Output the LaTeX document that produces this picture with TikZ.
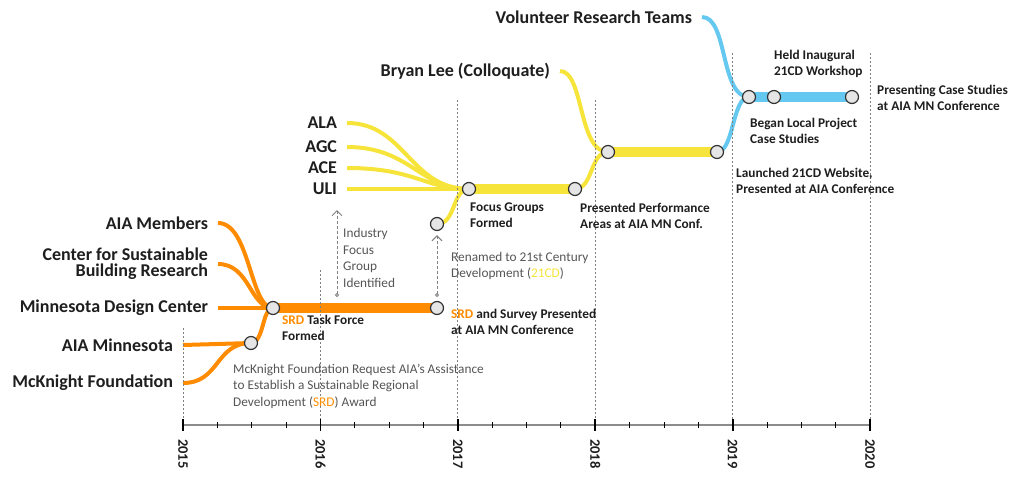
\documentclass[tikz,border=0pt]{standalone}
\usepackage{fontspec}
\setmainfont{Carlito}
\usetikzlibrary{arrows.meta,backgrounds}

\definecolor{srdorange}{RGB}{255,140,0}
\definecolor{cdyellow}{RGB}{247,228,58}
\definecolor{teamblue}{RGB}{100,200,240}
\definecolor{notegray}{RGB}{85,85,85}
\definecolor{inkdark}{RGB}{30,30,30}

\tikzset{
  station/.style={circle, draw=black!80, fill=black!10, line width=1.2pt, minimum size=13pt, inner sep=0pt},
  feeder/.style={line width=4pt},
  trunk/.style={line width=10pt},
  source/.style={font=\fontsize{18}{16}\selectfont\bfseries, text=inkdark, anchor=east, align=right, inner sep=0pt, outer xsep=10pt},
  event/.style={font=\fontsize{13.3}{16.5}\selectfont\bfseries, text=inkdark, anchor=west, align=left, inner sep=0pt},
  note/.style={font=\fontsize{13.3}{16.5}\selectfont, text=notegray, anchor=west, align=left, inner sep=0pt},
  yeargrid/.style={gray, line width=0.8pt, dash pattern=on 2pt off 2pt},
  pointer/.style={gray, line width=1pt, dash pattern=on 3pt off 2pt, {Circle[open,length=4pt]}-{Straight Barb[length=5pt,width=10pt]}},
}

\begin{document}
\begin{tikzpicture}[x=1pt,y=-1pt]
  \useasboundingbox (0,0) rectangle (1024,480);

  % Year axis
  \draw[black!45, line width=2pt] (183,425) -- (870,425);
  \foreach \q in {0,...,20}
    \draw[black, line width=0.8pt] ({183+34.35*\q},422) -- ({183+34.35*\q},428);
  \foreach \yr/\top [count=\i from 0] in {2015/328, 2016/270, 2017/100, 2018/100, 2019/53, 2020/53} {
    \draw[yeargrid] ({183+137.4*\i},\top) -- ({183+137.4*\i},420);
    \draw[black, line width=1.8pt] ({183+137.4*\i},419) -- ({183+137.4*\i},431);
    \node[rotate=-90, anchor=west, inner sep=0pt, text=inkdark, font=\fontsize{14.5}{14.5}\selectfont\bfseries] (y\yr) at ({183+137.4*\i},439) {\yr};
  }

  % Stations
  \node[station] (award) at (251,343) {};
  \node[station] (taskforce) at (273,308) {};
  \node[station] (survey) at (437,308) {};
  \node[station] (renamed) at (437,224) {};
  \node[station] (focus) at (469,189) {};
  \node[station] (perf) at (575,189) {};
  \node[station] (colloq) at (608,152) {};
  \node[station] (website) at (717,152) {};
  \node[station] (local) at (749,97) {};
  \node[station] (workshop) at (774,97) {};
  \node[station] (present) at (852,97) {};

  % Sources
  \node[source] (aiamem) at (218,223) {AIA Members};
  \node[source] (csbr) at (218,264) {Center for Sustainable\\Building Research};
  \node[source] (mdc) at (218,308) {Minnesota Design Center};
  \node[source] (aiamn) at (183,345) {AIA Minnesota};
  \node[source] (mcknight) at (183,383) {McKnight Foundation};
  \node[source] (ala) at (347,123) {ALA};
  \node[source] (agc) at (347,147) {AGC};
  \node[source] (ace) at (347,168) {ACE};
  \node[source] (uli) at (347,189) {ULI};
  \node[source] (bryan) at (560,71) {Bryan Lee (Colloquate)};
  \node[source] (teams) at (702,17) {Volunteer Research Teams};

  % Events
  \node[event] (tflabel) at (282,328) {\textcolor{srdorange}{SRD} Task Force\\Formed};
  \node[event] (svlabel) at (451,322) {\textcolor{srdorange}{SRD} and Survey Presented\\at AIA MN Conference};
  \node[event] (fglabel) at (470,215) {Focus Groups\\Formed};
  \node[event] (pflabel) at (580,216) {Presented Performance\\Areas at AIA MN Conf.};
  \node[event] (wblabel) at (736,181) {Launched 21CD Website,\\Presented at AIA Conference};
  \node[event] (lclabel) at (750,131) {Began Local Project\\Case Studies};
  \node[event] (wslabel) at (774,64) {Held Inaugural\\21CD Workshop};
  \node[event] (prlabel) at (877,98) {Presenting Case Studies\\at AIA MN Conference};

  % Notes
  \node[note] (awnote) at (233,386) {McKnight Foundation Request AIA's Assistance\\to Establish a Sustainable Regional\\Development (\textcolor{srdorange}{SRD}) Award};
  \node[note] (indnote) at (343,258) {Industry\\Focus\\Group\\Identified};
  \node[note] (rnnote) at (451,266) {Renamed to 21st Century\\Development (\textcolor{cdyellow}{21CD})};

  % Pointers
  \coordinate (indbase) at (337,297);
  \coordinate (indtip) at (337,210);
  \coordinate (rnbase) at (437,297);
  \draw[pointer] (indbase) -- (indtip);
  \draw[pointer, shorten >=4pt] (rnbase) -- (renamed.south);

  \begin{scope}[on background layer]
    % SRD lines
    \draw[feeder, srdorange] (aiamem.east) .. controls (250,223) and (250,308) .. (taskforce.center);
    \draw[feeder, srdorange] (csbr.east) .. controls (250,264) and (250,308) .. (taskforce.center);
    \draw[feeder, srdorange] (mdc.east) -- (taskforce.center);
    \draw[feeder, srdorange] (aiamn.east) -- (award.center);
    \draw[feeder, srdorange] (mcknight.east) .. controls (220,383) and (215,343) .. (award.center);
    \draw[feeder, srdorange] (award.center) .. controls (264,343) and (262,308) .. (taskforce.center);
    \draw[trunk, srdorange] (taskforce.center) -- (survey.center);

    % 21CD lines
    \draw[feeder, cdyellow] (ala.east) .. controls (405,123) and (410,189) .. (focus.center);
    \draw[feeder, cdyellow] (agc.east) .. controls (410,147) and (420,189) .. (focus.center);
    \draw[feeder, cdyellow] (ace.east) .. controls (415,168) and (425,189) .. (focus.center);
    \draw[feeder, cdyellow] (uli.east) -- (focus.center);
    \draw[feeder, cdyellow] (renamed.center) .. controls (456,224) and (452,189) .. (focus.center);
    \draw[trunk, cdyellow] (focus.center) -- (perf.center);
    \draw[feeder, cdyellow] (perf.center) .. controls (593,189) and (590,152) .. (colloq.center);
    \draw[feeder, cdyellow] (bryan.east) .. controls (584,71) and (578,152) .. (colloq.center);
    \draw[trunk, cdyellow] (colloq.center) -- (website.center);

    % Research team lines
    \draw[feeder, teamblue] (website.center) .. controls (734,152) and (732,97) .. (local.center);
    \draw[feeder, teamblue] (teams.east) .. controls (728,17) and (720,97) .. (local.center);
    \draw[trunk, teamblue] (local.center) -- (present.center);
  \end{scope}
\end{tikzpicture}
\end{document}
